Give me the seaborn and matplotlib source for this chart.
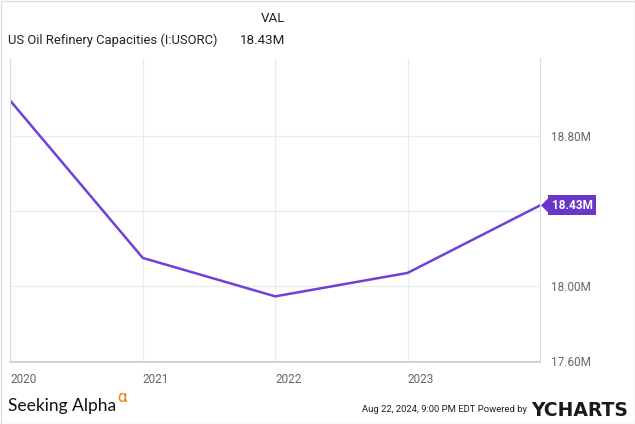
"""US oil refinery capacities, YCharts style."""

import matplotlib.dates as mdates
import matplotlib.pyplot as plt
import pandas as pd
import seaborn as sns
from matplotlib.patches import Polygon

years = ["2020-01-01", "2021-01-01", "2022-01-01", "2023-01-01", "2024-01-01"]
capacity_m = [18.99, 18.15, 17.945, 18.07, 18.43]
ytick_vals = [17.6, 18.0, 18.4, 18.8]
ytick_labels = ["17.60M", "18.00M", "", "18.80M"]
xtick_years = ["2020", "2021", "2022", "2023"]

LINE = "#7040d8"
TAG = "#6a36c8"
GRID = "#ebebeb"
TEXT = "#666666"

sns.set_style("white")
plt.rcParams["font.family"] = ["Roboto", "DejaVu Sans"]

df = pd.DataFrame({"date": pd.to_datetime(years), "value": capacity_m})

fig = plt.figure(figsize=(6.35, 4.24), dpi=100)
ax = fig.add_axes([10 / 635, 62 / 424, 530 / 635, 304 / 424])

sns.lineplot(data=df, x="date", y="value", ax=ax, color=LINE, linewidth=1.8)

ax.set_xlim(df["date"].iloc[0], df["date"].iloc[-1])
ax.set_ylim(17.595, 19.216)
ax.set_xlabel("")
ax.set_ylabel("")

ax.set_xticks(pd.to_datetime([f"{y}-01-01" for y in xtick_years]))
ax.xaxis.set_major_formatter(mdates.DateFormatter("%Y"))
ax.set_yticks(ytick_vals)
ax.set_yticklabels(ytick_labels)
ax.yaxis.tick_right()
ax.tick_params(axis="both", length=0, labelsize=8.5, labelcolor=TEXT)
ax.tick_params(axis="x", pad=8)
ax.tick_params(axis="y", pad=8)
for lbl in ax.get_xticklabels():
    lbl.set_horizontalalignment("left")

ax.grid(True, color=GRID, linewidth=0.9)
for side in ["left", "right"]:
    ax.spines[side].set_color("#dcdcdc")
ax.spines["top"].set_visible(False)
ax.spines["bottom"].set_color("#cccccc")
ax.spines["bottom"].set_linewidth(1.2)

# last value tag
last_x = mdates.date2num(df["date"].iloc[-1])
last_y = df["value"].iloc[-1]
ax.annotate(
    f"{last_y:.2f}M",
    xy=(last_x, last_y),
    xytext=(8.5, 0),
    textcoords="offset points",
    va="center",
    ha="left",
    fontsize=8.5,
    fontweight="bold",
    color="white",
    bbox=dict(boxstyle="square,pad=0.3", fc=TAG, ec="none"),
    annotation_clip=False,
)
fig.canvas.draw()
px, py = ax.transData.transform((last_x, last_y))
tri = Polygon(
    [[px + 1, py], [px + 9, py + 8], [px + 9, py - 8]],
    closed=True,
    fc=TAG,
    ec="none",
    transform=None,
    clip_on=False,
)
fig.patches.append(tri)

# header
fig.text(8 / 635, 1 - 40 / 424, "US Oil Refinery Capacities (I:USORC)", fontsize=9.4,
         color="#222222", va="center", ha="left")
fig.text(285 / 635, 1 - 19 / 424, "VAL", fontsize=9.6, color="#222222", va="center", ha="right")
fig.text(285 / 635, 1 - 40 / 424, "18.43M", fontsize=9.6, color="#222222", va="center", ha="right")

# footer
fig.text(8 / 635, 1 - 406 / 424, "Seeking Alpha", fontsize=12.5, family="Lato",
         color="#111111", va="center", ha="left")
fig.text(117 / 635, 1 - 397 / 424, "α", fontsize=12, color="#f07a10", va="center", ha="left")
fig.text(527 / 635, 1 - 410 / 424, "Aug 22, 2024, 9:00 PM EDT Powered by", fontsize=6.8,
         color="#222222", va="center", ha="right")
fig.text(531 / 635, 1 - 410 / 424, "YCHARTS", fontsize=13.5, fontweight="bold",
         family="DejaVu Sans", color="#1a1a1a", va="center", ha="left")

fig.patches.append(plt.Rectangle((0.5 / 635, 0.5 / 424), 634 / 635, 423 / 424,
                                 transform=fig.transFigure, fill=False,
                                 ec="#dddddd", lw=1))

fig.savefig("out.png", dpi=100)
